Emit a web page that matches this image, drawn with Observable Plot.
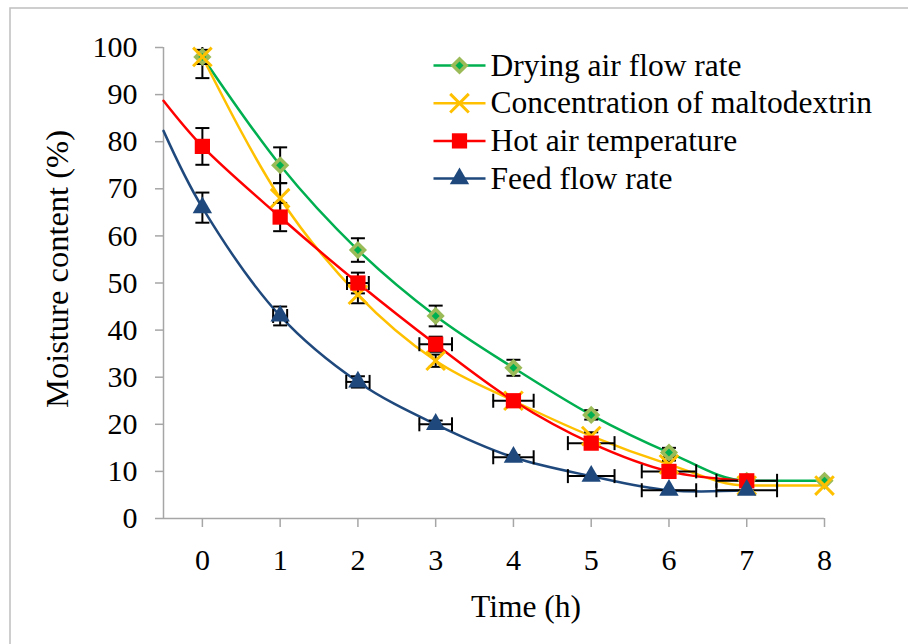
<!DOCTYPE html>
<html>
<head>
<meta charset="utf-8">
<script src="https://cdn.jsdelivr.net/npm/d3@7"></script>
<script src="https://cdn.jsdelivr.net/npm/@observablehq/plot@0.6"></script>
<style>
  html, body { margin: 0; padding: 0; background: white; }
  #chart { width: 908px; height: 644px; }
</style>
</head>
<body>
<div id="chart"></div>
<script>
// ---- data ----
const time = [0, 1, 2, 3, 4, 5, 6, 7, 8];
const seriesNames = ["Drying air flow rate", "Concentration of maltodextrin", "Hot air temperature", "Feed flow rate"];

const dryingAir = [98, 75, 57, 43, 32, 22, 14, 8, 8];
const dryingAirErrY = [1.5, 3.8, 2.5, 2.2, 1.7, 1, 1, 0, 0];

const maltodextrin = [98, 68, 47.5, 33.5, 25, 17.5, 11.5, 7, 7];
const maltodextrinErrY = [4.5, 3.2, 1.8, 1.3, 0.5, 0.8, 0.8, 0, 0];

const hotAir = [79, 64, 50, 37, 25, 16, 10, 8];
const hotAirErrY = [3.9, 3, 2.2, 1.6, 0.5, 0, 0, 0];
const hotAirErrX = [0, 0, 0.14, 0.21, 0.26, 0.3, 0.35, 0.39];
const hotAirLead = [-0.5, 88.7];   // curve extension before t = 0

const feedFlow = [66, 43, 29, 20, 13, 9, 6, 6];
const feedFlowErrY = [3.2, 2, 1.2, 0.8, 0.5, 0, 0, 0];
const feedFlowErrX = [0, 0.09, 0.15, 0.21, 0.26, 0.3, 0.35, 0.39];
const feedFlowLead = [-0.5, 82.3];  // curve extension before t = 0

const yTicks = [0, 10, 20, 30, 40, 50, 60, 70, 80, 90, 100];
const xTicks = [0, 1, 2, 3, 4, 5, 6, 7, 8];

// ---- styles ----
const colors = ["#00B050", "#FFC000", "#FF0000", "#1F497D"];
const greenOuter = "#9BBB59";

// ---- build records ----
function build(vals, ey, ex) {
  return vals.map((v, i) => ({t: time[i], v, ey: ey ? ey[i] : 0, ex: ex ? ex[i] : 0}));
}
const sD = build(dryingAir, dryingAirErrY);
const sM = build(maltodextrin, maltodextrinErrY);
const sH = build(hotAir, hotAirErrY, hotAirErrX);
const sF = build(feedFlow, feedFlowErrY, feedFlowErrX);
const allSeries = [sD, sM, sH, sF];

const lineD = sD;
const lineM = sM;
const lineH = [{t: hotAirLead[0], v: hotAirLead[1]}, ...sH];
const lineF = [{t: feedFlowLead[0], v: feedFlowLead[1]}, ...sF];

const allPts = allSeries.flat();
const vBars = allPts.filter(d => d.ey > 0);
const hBars = allPts.filter(d => d.ex > 0);
const vCaps = vBars.flatMap(d => [{t: d.t, v: d.v - d.ey}, {t: d.t, v: d.v + d.ey}]).filter(d => d.v <= 100);
const hCaps = hBars.flatMap(d => [{t: d.t - d.ex, v: d.v}, {t: d.t + d.ex, v: d.v}]);

// custom symbols
const hLine = w => ({draw(ctx) { ctx.moveTo(-w / 2, 0); ctx.lineTo(w / 2, 0); }});
const vLine = h => ({draw(ctx) { ctx.moveTo(0, -h / 2); ctx.lineTo(0, h / 2); }});

function markerMarks(data, i, opts = {}) {
  const base = Object.assign({x: "t", y: "v"}, opts);
  if (i === 0) return [
    Plot.dot(data, {...base, symbol: "diamond2", r: 8.2, fill: greenOuter, stroke: "none"}),
    Plot.dot(data, {...base, symbol: "diamond2", r: 3.6, fill: colors[0], stroke: "none"})
  ];
  if (i === 1) return [
    Plot.dot(data, {...base, symbol: "times", r: 8.5, stroke: colors[1], strokeWidth: 3, fill: "none"})
  ];
  if (i === 2) return [
    Plot.dot(data, {...base, symbol: "square", r: 8.6, fill: colors[2], stroke: "none"})
  ];
  return [
    Plot.dot(data, {...base, symbol: "triangle", r: 7.2, fill: colors[3], stroke: "none"})
  ];
}

// legend marks
const legendMarks = seriesNames.flatMap((name, i) => {
  const dy = 18 + 37.7 * i;
  const anchor = {frameAnchor: "top-left", dy};
  return [
    Plot.dot([name], {...anchor, dx: 296, symbol: hLine(52), stroke: colors[i], strokeWidth: 2.5, fill: "none"}),
    ...markerMarks([name], i, {x: null, y: null, ...anchor, dx: 296}),
    Plot.text([name], {...anchor, dx: 327, text: d => d, textAnchor: "start", lineAnchor: "middle", fontSize: 31.5})
  ];
});

const plot = Plot.plot({
  width: 908,
  height: 644,
  marginLeft: 163,
  marginRight: 84,
  marginTop: 47,
  marginBottom: 126,
  x: {domain: [-0.5, 8]},
  y: {domain: [0, 100]},
  style: {fontFamily: "'Liberation Serif', 'Times New Roman', serif", fontSize: "30px", background: "white", color: "black"},
  marks: [
    Plot.axisY({ticks: yTicks, tickSize: 8, tickPadding: 18, label: null, stroke: "#A6A6A6", strokeWidth: 1.5, fill: "black", fontSize: 30}),
    Plot.axisX({ticks: xTicks, tickSize: 9, tickPadding: 21, label: null, stroke: "#A6A6A6", strokeWidth: 1.5, fill: "black", fontSize: 30}),
    Plot.ruleX([-0.5], {stroke: "#A6A6A6", strokeWidth: 1.5}),
    Plot.ruleY([0], {stroke: "#A6A6A6", strokeWidth: 1.5}),
    Plot.text(["Time (h)"], {frameAnchor: "bottom", dx: 32, dy: 88, text: d => d, lineAnchor: "middle", fontSize: 31.5}),
    Plot.text(["Moisture content (%)"], {frameAnchor: "left", dx: -106, dy: -14, rotate: -90, text: d => d, lineAnchor: "middle", textAnchor: "middle", fontSize: 32.5}),
    // curves
    Plot.line(lineD, {x: "t", y: "v", stroke: colors[0], strokeWidth: 2.5, curve: "monotone-x"}),
    Plot.line(lineM, {x: "t", y: "v", stroke: colors[1], strokeWidth: 2.5, curve: "monotone-x"}),
    Plot.line(lineH, {x: "t", y: "v", stroke: colors[2], strokeWidth: 2.5, curve: "catmull-rom"}),
    Plot.line(lineF, {x: "t", y: "v", stroke: colors[3], strokeWidth: 2.5, curve: "catmull-rom"}),
    // error bars (clipped to the plot area like the original)
    Plot.ruleX(vBars, {x: "t", y1: d => d.v - d.ey, y2: d => Math.min(100, d.v + d.ey), stroke: "black", strokeWidth: 2}),
    Plot.dot(vCaps, {x: "t", y: "v", symbol: hLine(14), stroke: "black", strokeWidth: 2, fill: "none"}),
    Plot.ruleY(hBars, {y: "v", x1: d => d.t - d.ex, x2: d => d.t + d.ex, stroke: "black", strokeWidth: 2}),
    Plot.dot(hCaps, {x: "t", y: "v", symbol: vLine(14), stroke: "black", strokeWidth: 2, fill: "none"}),
    // markers
    ...allSeries.flatMap((s, i) => markerMarks(s, i)),
    // legend
    ...legendMarks
  ]
});

document.getElementById("chart").appendChild(plot);
// outer chart border
d3.select(plot).append("rect")
  .attr("x", 10).attr("y", 8).attr("width", 1200).attr("height", 1200)
  .attr("fill", "none").attr("stroke", "#BFBFBF").attr("stroke-width", 1.5);
</script>
</body>
</html>
